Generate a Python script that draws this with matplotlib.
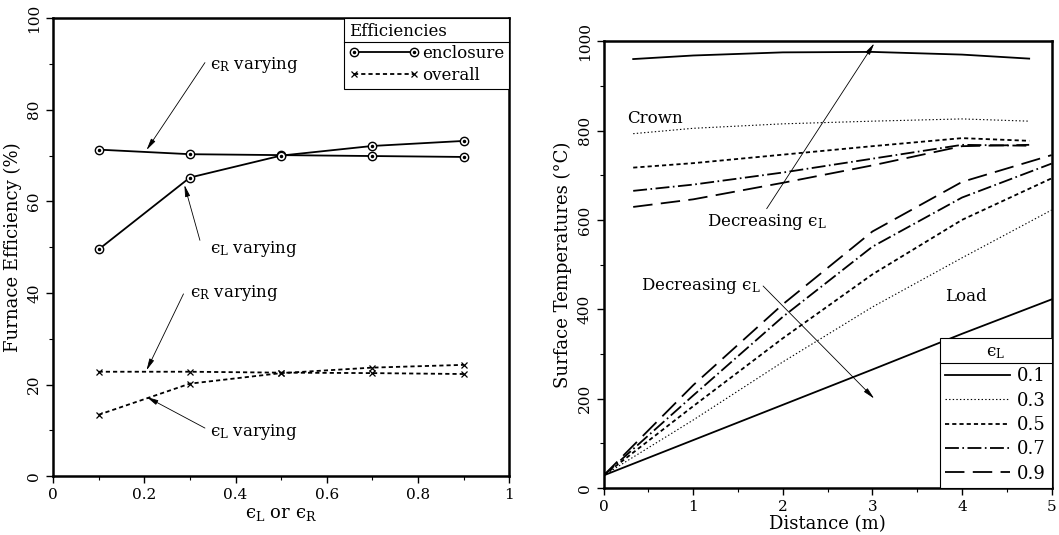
import matplotlib
matplotlib.use("Agg")
import matplotlib.pyplot as plt
from matplotlib.lines import Line2D
from matplotlib.legend_handler import HandlerTuple
from matplotlib.ticker import MultipleLocator

plt.rcParams["font.family"] = "DejaVu Serif"
plt.rcParams["mathtext.fontset"] = "dejavuserif"
plt.rcParams["lines.scale_dashes"] = False

# ==== DATA ====

# left panel: efficiencies vs emissivity
eps = [0.1, 0.3, 0.5, 0.7, 0.9]
encl_eR = [71.3, 70.3, 70.1, 69.9, 69.7]
encl_eL = [49.5, 65.2, 70.0, 72.1, 73.2]
over_eR = [22.8, 22.8, 22.6, 22.5, 22.3]
over_eL = [13.4, 20.2, 22.5, 23.7, 24.3]

# right panel: surface temperatures vs distance
eps_L = ["0.1", "0.3", "0.5", "0.7", "0.9"]
x_crown = [0.33, 1, 2, 3, 4, 4.75]
crown = [
    [960, 968, 975, 976, 970, 961],
    [793, 805, 815, 821, 826, 821],
    [717, 727, 746, 765, 783, 777],
    [665, 679, 706, 737, 768, 766],
    [629, 646, 683, 722, 765, 768],
]
x_load = [0, 1, 2, 3, 4, 5]
load = [
    [28, 107, 186, 265, 345, 422],
    [28, 152, 282, 405, 515, 622],
    [28, 183, 335, 478, 600, 693],
    [28, 207, 383, 540, 650, 726],
    [28, 230, 411, 574, 685, 745],
]

# line styles for eps_L = 0.1 ... 0.9
styles = [
    dict(linestyle="-", linewidth=1.3),
    dict(linestyle=(0, (1, 1.6)), linewidth=0.8),
    dict(linestyle=(0, (3, 2.2)), linewidth=1.3),
    dict(linestyle=(0, (10, 2.5, 1.2, 2.5)), linewidth=1.3),
    dict(linestyle=(0, (14, 6)), linewidth=1.3),
]

EPS_L = "ϵ$_{\\rm L}$"
EPS_R = "ϵ$_{\\rm R}$"

fig = plt.figure(figsize=(10.59, 5.35), dpi=100)
ax1 = fig.add_axes([0.050, 0.110, 0.431, 0.856])
ax2 = fig.add_axes([0.570, 0.088, 0.423, 0.835])

# ==== LEFT PANEL ====
lw = 1.3
ekw = dict(color="black", linewidth=lw, marker="o", markersize=6,
           markerfacecolor="white", markeredgecolor="black", markeredgewidth=1.0)
dkw = dict(color="black", linestyle="none", marker=".", markersize=3)
l_enc, = ax1.plot(eps, encl_eR, **ekw)
d_enc, = ax1.plot(eps, encl_eR, **dkw)
ax1.plot(eps, encl_eL, **ekw)
ax1.plot(eps, encl_eL, **dkw)
okw = dict(color="black", linewidth=lw, linestyle=(0, (3, 2.2)), marker="x",
           markersize=5, markeredgewidth=0.9)
l_ov, = ax1.plot(eps, over_eR, **okw)
ax1.plot(eps, over_eL, **okw)

ax1.set_xlim(0, 1)
ax1.set_ylim(0, 100)
ax1.xaxis.set_major_locator(MultipleLocator(0.2))
ax1.xaxis.set_minor_locator(MultipleLocator(0.1))
ax1.yaxis.set_major_locator(MultipleLocator(20))
ax1.yaxis.set_minor_locator(MultipleLocator(10))
ax1.set_xticks([0, 0.2, 0.4, 0.6, 0.8, 1.0])
ax1.set_xticklabels(["0", "0.2", "0.4", "0.6", "0.8", "1"])
ax1.set_xlabel(EPS_L + " or " + EPS_R, fontsize=13, labelpad=2)
ax1.set_ylabel("Furnace Efficiency (%)", fontsize=13)

akw = dict(arrowstyle="-|>,head_length=0.7,head_width=0.15", color="black",
           lw=0.6, shrinkA=0, shrinkB=0)
ann_left = [
    (EPS_R + " varying", (0.345, 89.7), (0.333, 90.3), (0.205, 71.2)),
    (EPS_L + " varying", (0.345, 49.5), (0.322, 51.5), (0.288, 63.6)),
    (EPS_R + " varying", (0.300, 39.9), (0.286, 39.8), (0.205, 23.1)),
    (EPS_L + " varying", (0.345, 9.6), (0.333, 10.5), (0.205, 17.3)),
]
for txt, tpos, a0, a1 in ann_left:
    ax1.text(tpos[0], tpos[1], txt, fontsize=12, ha="left", va="center")
    ax1.annotate("", xy=a1, xytext=a0, arrowprops=akw)

leg1 = ax1.legend([(l_enc, d_enc), l_ov], ["enclosure", "overall"],
                  handler_map={tuple: HandlerTuple(ndivide=1, pad=0)},
                  loc="upper right", borderaxespad=0, title="Efficiencies",
                  alignment="left", fontsize=12, title_fontsize=12,
                  fancybox=False, framealpha=1, edgecolor="black",
                  numpoints=2, handlelength=4.2, handletextpad=0.2,
                  borderpad=0.3, labelspacing=0.3)
leg1.get_frame().set_linewidth(0.8)

# ==== RIGHT PANEL ====
handles = []
for i in range(len(eps_L)):
    ax2.plot(x_crown, crown[i], color="black", **styles[i])
    h, = ax2.plot(x_load, load[i], color="black", **styles[i])
    handles.append(h)

ax2.set_xlim(0, 5)
ax2.set_ylim(0, 1000)
ax2.xaxis.set_major_locator(MultipleLocator(1))
ax2.xaxis.set_minor_locator(MultipleLocator(0.5))
ax2.yaxis.set_major_locator(MultipleLocator(200))
ax2.yaxis.set_minor_locator(MultipleLocator(100))
ax2.set_xlabel("Distance (m)", fontsize=13, labelpad=1)
ax2.set_ylabel("Surface Temperatures (°C)", fontsize=13)

ax2.text(0.26, 827, "Crown", fontsize=12, ha="left", va="center")
ax2.text(3.81, 428, "Load", fontsize=12, ha="left", va="center")
ann_right = [
    ("Decreasing " + EPS_L, (1.15, 595), (1.82, 625), (3.02, 995)),
    ("Decreasing " + EPS_L, (0.42, 452), (1.78, 452), (3.02, 200)),
]
for txt, tpos, a0, a1 in ann_right:
    ax2.text(tpos[0], tpos[1], txt, fontsize=12, ha="left", va="center")
    ax2.annotate("", xy=a1, xytext=a0, arrowprops=akw)

leg2 = ax2.legend(handles, eps_L, loc="lower right", borderaxespad=0,
                  title=EPS_L, fontsize=13, title_fontsize=12,
                  fancybox=False, framealpha=1, edgecolor="black",
                  handlelength=3.6, handletextpad=0.4, borderpad=0.3,
                  labelspacing=0.35)
leg2.get_frame().set_linewidth(0.8)

for ax in (ax1, ax2):
    for s in ax.spines.values():
        s.set_linewidth(1.8)
    ax.tick_params(which="major", direction="out", length=5, width=1.0,
                   labelsize=11)
    ax.tick_params(which="minor", direction="out", length=3, width=0.8)
    plt.setp(ax.get_yticklabels(), rotation=90, va="center")

# separator line under each legend title
fig.canvas.draw()
renderer = fig.canvas.get_renderer()
for leg in (leg1, leg2):
    box = leg.get_frame().get_window_extent(renderer)
    tb = leg.get_title().get_window_extent(renderer)
    y = tb.y0 - 2
    inv = fig.transFigure.inverted()
    (fx0, fy), (fx1, _) = inv.transform([(box.x0, y), (box.x1, y)])
    fig.add_artist(Line2D([fx0, fx1], [fy, fy], color="black", lw=0.8,
                          transform=fig.transFigure))

fig.savefig("out.png", dpi=100)
